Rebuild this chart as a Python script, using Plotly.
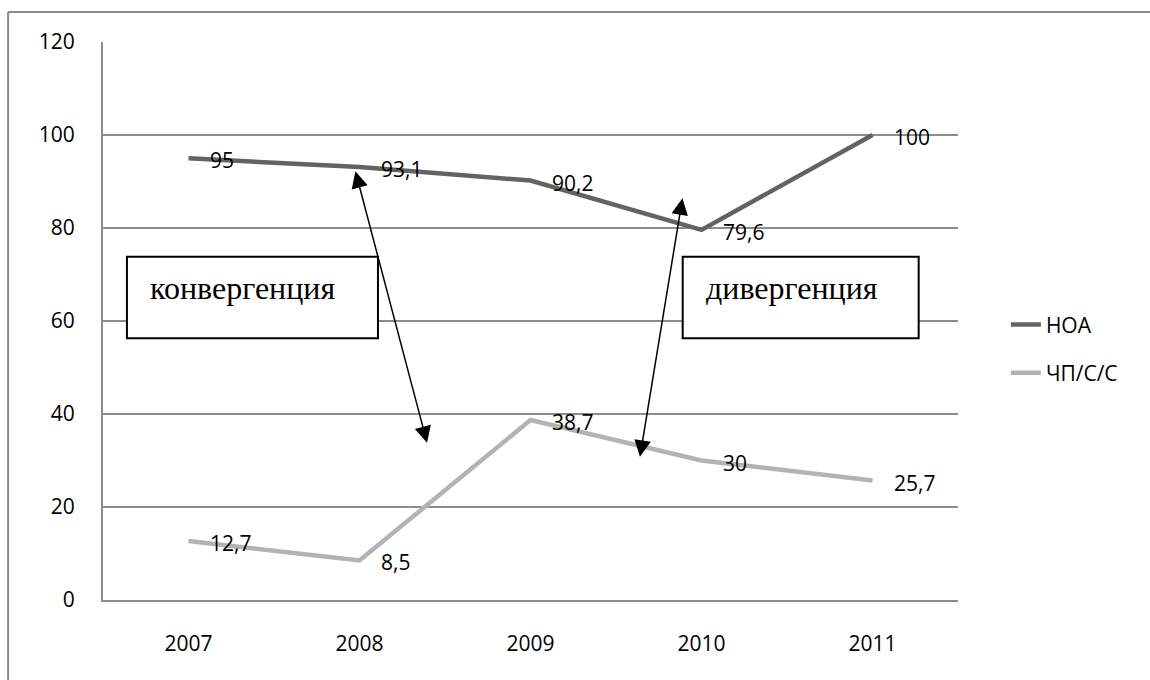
import plotly.graph_objects as go

years = ["2007", "2008", "2009", "2010", "2011"]
noa = [95, 93.1, 90.2, 79.6, 100]
chp = [12.7, 8.5, 38.7, 30, 25.7]
noa_labels = ["95", "93,1", "90,2", "79,6", "100"]
chp_labels = ["12,7", "8,5", "38,7", "30", "25,7"]
series_names = ["НОА", "ЧП/С/С"]
y_ticks = [0, 20, 40, 60, 80, 100, 120]

NUM_FONT = "Open Sans"
GRID = "#8c8c8c"

fig = go.Figure()
fig.add_trace(go.Scatter(x=years, y=noa, mode="lines", name=series_names[0],
                         line=dict(color="#636363", width=4.5), legendgroup="a"))
fig.add_trace(go.Scatter(x=years, y=chp, mode="lines", name=series_names[1],
                         line=dict(color="#b3b3b3", width=4.5), legendgroup="b"))

annotations = []
for ys, labs in [(noa, noa_labels), (chp, chp_labels)]:
    for i, (yv, t) in enumerate(zip(ys, labs)):
        annotations.append(dict(x=i, y=yv, xref="x", yref="y", text=t, showarrow=False,
                                xanchor="left", yanchor="middle", xshift=19, yshift=-2,
                                font=dict(family=NUM_FONT, size=21, color="#000")))

# double-headed arrows
for (x0, y0, x1, y1) in [(0.974, 92.5, 1.395, 33.8), (2.89, 86.7, 2.64, 30.8)]:
    annotations.append(dict(x=x1, y=y1, ax=x0, ay=y0, xref="x", yref="y", axref="x", ayref="y",
                            text="", showarrow=True, arrowhead=2, startarrowhead=2,
                            arrowside="end+start", arrowsize=2.2, startarrowsize=2.2,
                            arrowwidth=1.5, arrowcolor="#000"))

# text boxes
boxes = [("конвергенция", -0.36, 1.108, -0.238), ("дивергенция", 2.89, 4.27, 3.013)]
shapes = []
for text, bx0, bx1, tx in boxes:
    shapes.append(dict(type="rect", xref="x", yref="y", x0=bx0, x1=bx1, y0=56.3, y1=73.8,
                       line=dict(color="#000", width=2), fillcolor="white", layer="above"))
    annotations.append(dict(x=tx, y=67.0, text=text, showarrow=False, xanchor="left",
                            yanchor="middle", font=dict(family="Liberation Serif", size=32, color="#000")))

# outer frame (left and top edges)
shapes.append(dict(type="line", xref="paper", yref="paper", x0=-0.111, x1=-0.111, y0=-0.3, y1=1.0538,
                   line=dict(color=GRID, width=2)))
shapes.append(dict(type="line", xref="paper", yref="paper", x0=-0.111, x1=1.4, y0=1.0538, y1=1.0538,
                   line=dict(color=GRID, width=2)))

fig.update_layout(
    width=1150, height=680,
    margin=dict(l=103, r=192, t=42, b=80),
    paper_bgcolor="white", plot_bgcolor="white",
    showlegend=True,
    legend=dict(x=1.056, y=0.45, xanchor="left", yanchor="middle",
                traceorder="grouped", tracegroupgap=18,
                font=dict(family=NUM_FONT, size=21, color="#000")),
    annotations=annotations,
    shapes=shapes,
    xaxis=dict(type="category", range=[-0.5, 4.5], showgrid=False, showline=True,
               linecolor=GRID, linewidth=2, ticks="", ticklabelstandoff=24,
               tickfont=dict(family=NUM_FONT, size=21, color="#000"), fixedrange=True),
    yaxis=dict(range=[0, 120], tickvals=y_ticks, showgrid=True, gridcolor=GRID, gridwidth=1.5,
               showline=True, linecolor=GRID, linewidth=2, zeroline=False, ticks="",
               ticklabelstandoff=22, tickfont=dict(family=NUM_FONT, size=21, color="#000")),
)

fig.write_html("out.html")
